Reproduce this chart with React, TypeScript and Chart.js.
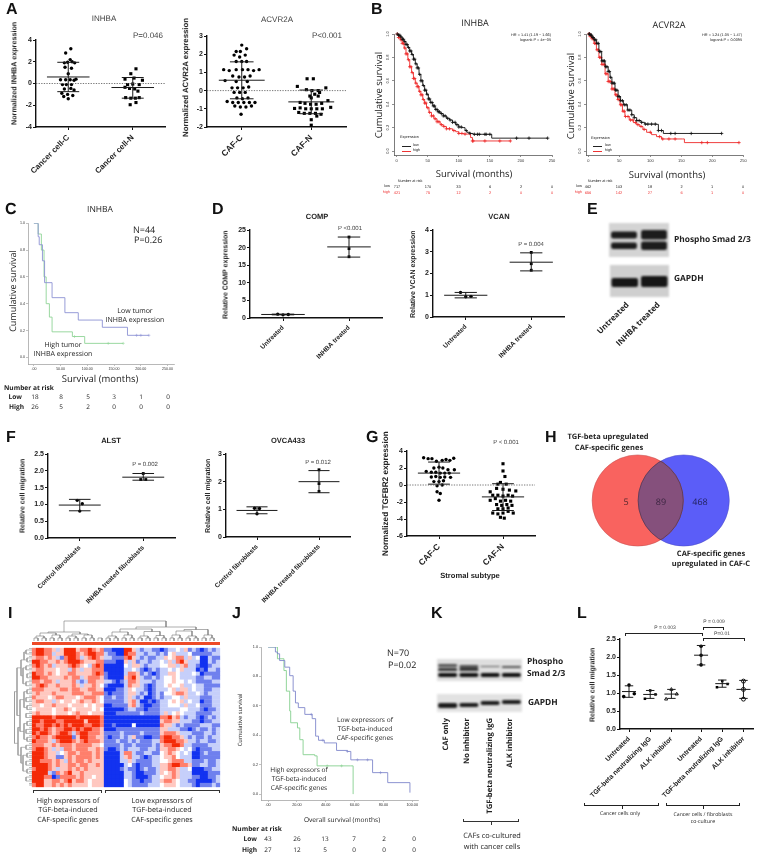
import React, { useEffect, useRef } from "react";
import { Chart, registerables } from "chart.js";
Chart.register(...registerables);

const W = 760, H = 858, AXW = 20;
const ARIAL = "'Liberation Sans', Arial, sans-serif";
const OPEN = "'Open Sans', sans-serif";

// ---------- Panel A ----------
const inhbaC = [[4,3.2],[-4,2.8],[3,2.2],[-6,1.9],[-1,1.95],[6,2.0],[10,1.9],[-5,1.5],[5,1.4],[0,0.9],[-12,0.35],[-4,0.35],[3,0.35],[9,0.3],[12,0.4],[-9,-0.1],[-3,-0.1],[5,-0.1],[-6,-0.5],[4,-0.45],[9,-0.6],[-10,-0.9],[-1,-1.0],[7,-1.1],[0,-1.4],[-7,-1.2]];
const inhbaN = [[5,1.35],[-3,0.9],[-12,0.4],[2,0.5],[10,-0.1],[15,0.3],[0,-0.05],[-8,-0.1],[-12,-0.35],[-5,-0.45],[3,-0.5],[8,-0.7],[-11,-1.3],[-3,-1.35],[4,-1.35],[10,-1.3],[-4,-1.95],[5,-1.75]];
const acvrC = [[0,2.5],[7,2.3],[-8,2.15],[-2,2.15],[-11,1.95],[-3,1.85],[5,1.95],[-8,1.6],[0,1.6],[7,1.6],[-26,1.15],[-18,1.1],[-8,1.15],[1,1.15],[9,1.15],[17,1.1],[25,1.15],[-13,0.8],[-4,0.75],[4,0.75],[12,0.8],[-24,0.55],[-8,0.5],[8,0.5],[-14,0.15],[-6,0.15],[2,0.15],[10,0.2],[-11,-0.1],[-3,-0.1],[5,-0.1],[-7,-0.4],[1,-0.45],[9,-0.4],[-21,-0.6],[-13,-0.65],[-5,-0.65],[3,-0.65],[11,-0.65],[19,-0.65],[-10,-0.85],[-2,-0.9],[6,-0.9],[14,-0.85],[-1,-1.3]];
const acvrN = [[-6,0.65],[3,0.65],[-20,0.23],[-7,0.05],[1,0],[10,0],[21,0.15],[12,-0.1],[5,-0.2],[-2,-0.3],[10,-0.3],[0,-0.4],[-16,-0.65],[-9,-0.7],[-1,-0.75],[7,-0.75],[15,-0.7],[24,-0.55],[-24,-0.98],[-16,-0.95],[-8,-1],[0,-1],[8,-1],[16,-1],[28,-0.92],[-18,-1.2],[-10,-1.25],[-2,-1.25],[6,-1.25],[14,-1.3],[8,-1.4],[0,-1.6],[0,-1.9]];
// ---------- Panel D / F ----------
const compU = [[-8,1.1],[0,0.9],[8,1.0]];
const compT = [[0,23],[0,19.7],[0,17.4]];
const vcanU = [[-8,1.13],[0,0.93],[8,0.95]];
const vcanT = [[0,2.97],[0,2.45],[0,2.15]];
const alstC = [[-4,1.12],[4,1.02],[0,0.8]];
const alstT = [[0,1.92],[-4,1.74],[4,1.74]];
const ovcaC = [[-4,1.04],[4,1.03],[0,0.84]];
const ovcaT = [[0,2.43],[0,1.93],[0,1.65]];
// ---------- Panel G ----------
const tgfC = [[-24,3.2],[-17,3.1],[-11,3.1],[-4,2.8],[5,2.9],[11,3.0],[17,2.9],[23,3.15],[-8,2.0],[0,2.1],[6,2.0],[14,1.8],[-20,1.6],[-12,1.5],[-5,1.5],[2,1.4],[9,1.4],[16,1.4],[24,1.8],[-12,0.95],[-5,1],[2,0.9],[9,0.95],[18,0.9],[-8,0.4],[0,0.4],[7,0.5],[-3,-0.1],[5,0],[-3,-0.8],[2,-1],[0,-1.8]];
const tgfN = [[0,2.5],[0,1.65],[3,1],[-8,0.1],[-4,0.3],[5,0.1],[-20,-0.8],[-10,-0.4],[0,-0.5],[10,-0.6],[20,-0.7],[-16,-1.2],[-8,-1.2],[0,-1.3],[8,-1.2],[15,-1.3],[-20,-1.8],[-12,-1.6],[-4,-1.9],[4,-1.8],[12,-1.9],[-10,-2.3],[-2,-2.4],[6,-2.3],[14,-2.4],[-8,-2.8],[0,-2.8],[8,-2.7],[-16,-3.3],[-8,-3.4],[0,-3.3],[8,-3.1],[16,-3.3],[-4,-3.8],[2,-3.9]];
// ---------- Panel L ----------
const lCats = ["Untreated","TGF-beta neutralizing IgG","ALK inhibitor","Untreated","TGF-beta neutralizing IgG","ALK inhibitor"];
const lCenters = [1,2,3,4.4,5.4,6.4];
const lPts = [[[0,1.22],[-25,0.9],[25,0.98]],[[0,1.07],[-25,0.84],[25,0.96]],[[0,1.1],[-25,0.83],[25,0.97]],[[0,2.3],[0,2.05],[0,1.78]],[[-25,1.16],[0,1.33],[25,1.25]],[[0,1.33],[0,1.1],[0,0.83]]];
const lMean = [1.04,0.96,0.97,2.05,1.26,1.1];
const lHi = [1.2,1.07,1.1,2.32,1.36,1.35];
const lLo = [0.88,0.85,0.85,1.78,1.16,0.85];
// ---------- Survival curves ----------
const kmXTicks = [0,50,100,150,200,250];
const kmYTicks = [0,0.2,0.4,0.6,0.8,1];
const b1LowT = [0,3,6,9,12,15,18,21,24,27,30,33,36,39,42,45,48,51,54,58,62,66,70,75,80,85,90,95,100,105,110,113,118,123,153,243];
const b1LowS = [1,.99,.975,.955,.935,.91,.885,.855,.825,.785,.745,.71,.655,.6,.56,.52,.485,.445,.415,.385,.355,.335,.32,.3,.28,.265,.245,.225,.205,.2,.175,.16,.15,.143,.11,.11];
const b1LowC = [1,3,5,7,9,11,13,15,17,19,21,23,25,27,29,31,33,35,37,39,41,43,45,47,49,51,53,55,57,59,61,63,65,67,69,72,75,78,82,86,90,94,97,100,104,112,118,125,130,133,142,144,150,193,213,243];
const b1HighT = [0,3,6,9,12,15,18,21,24,27,30,33,36,39,42,45,48,52,56,60,65,70,75,80,90,95,100,108,113,119,122,183];
const b1HighS = [1,.97,.95,.92,.88,.83,.78,.72,.67,.62,.58,.55,.51,.48,.44,.41,.37,.33,.3,.275,.25,.225,.21,.19,.175,.165,.15,.145,.145,.115,.086,.086];
const b1HighC = [1,3,5,7,9,11,13,15,17,19,21,23,25,27,29,31,33,35,37,39,41,43,45,47,50,53,56,59,62,65,68,72,76,80,85,92,100,105,110,122,123,142,166,183];
const b2LowT = [0,3,6,9,13,17,21.5,27,32,35,38,43,48,52,56.5,63,70,74,78,85,91,100,110,113,121,215];
const b2LowS = [1,.99,.97,.95,.92,.85,.77,.72,.68,.63,.58,.52,.465,.43,.395,.35,.31,.285,.26,.245,.23,.23,.228,.175,.15,.15];
const b2LowC = [1,2,4,5,7,8,10,12,14,16,18,20,22,24,26,28,30,32,34,36,38,40,42,44,46,48,50,52,55,58,61,64,67,70,74,78,82,86,92,96,102,108,113,118,133,140,166,215];
const b2HighT = [0,3,6,9,13,17,21.5,27,32,38,43,47,51,55,59,66,72.6,78,83,88,94,102,110,118,152,155,243.5];
const b2HighS = [1,.98,.96,.92,.865,.8,.74,.66,.594,.53,.48,.44,.395,.34,.295,.265,.243,.225,.21,.185,.16,.14,.123,.103,.103,.072,.072];
const b2HighC = [1,2,3,5,6,8,10,12,14,16,18,20,22,24,26,28,30,32,34,36,38,40,42,44,46,48,50,52,54,56,58,60,64,68,72,76,80,85,90,100,115,120,130,140,183,192,243];
const cLowT = [0,6,8,10,16,20,34,58,83,128,175,215];
const cLowS = [1,1,.9,.84,.72,.557,.445,.333,.278,.224,.164,.164];
const cLowC = [192,200,215];
const cHighT = [0,6,8,14,19,23,29,34,72,95,167];
const cHighS = [1,1,.92,.8,.6,.4,.3,.19,.155,.104,.104];
const cHighC = [76,139,167];
const jLowT = [0,5.1,6.5,8,11.6,15,17.4,19,21,25.5,30.6,33,35,39,47.5,55,57.4,72.5,83,98.4];
const jLowS = [1,.966,.954,.908,.863,.805,.7,.62,.588,.542,.513,.394,.366,.348,.297,.29,.233,.146,.078,.01];
const jLowC = [30,38,55,62,69,78];
const jHighT = [0,5.1,6.5,11,12.7,15,15.7,20.4,22,24.3,32.4,34,57,59];
const jHighS = [1,1,.92,.84,.7,.565,.485,.45,.37,.268,.26,.192,.192,0];
const jHighC = [41,51];
// ---------- Risk tables ----------
const b1RiskLow = ["717","170","33","6","2","0"];
const b1RiskHigh = ["421","75","12","2","0","0"];
const b2RiskLow = ["462","103","18","2","1","0"];
const b2RiskHigh = ["656","142","27","6","1","0"];
const cRiskLow = ["18","8","5","3","1","0"];
const cRiskHigh = ["26","5","2","0","0","0"];
const jRiskLow = ["43","26","13","7","2","0"];
const jRiskHigh = ["27","12","5","0","0","0"];
// ---------- Venn ----------
const vennCounts = ["5","89","468"];
const vennCenters = [45.7,91.7];
// ---------- Heatmap: R strong red ... w white ... B strong blue ----------
const heatRows = [
"rRRrrplpRRRprrRrprbbBBBRRplbllbbBbllwlpblbBblbl",
"rRRrrlppRRRrprRRrrlbbBBRrrllbllblbwplllwbbbbbll",
"prrprplbrRRrlprRrpllbbbrRplblbbllpwprrlplwBBlbb",
"RRrrpprprRRRrppprrbbbBBplpbllbllwlplrRplllBBlbl",
"rRrprlppprRrpwlrRrBBBBBwlpplblllwwpplprllbBBbll",
"prrpppwpplrplpprrrBBBBBllwlbBblbllwlwplllBbBllb",
"RrrprpwpprrpppprRrbBBBBlrrpblbBbllppwlllwlBbbbb",
"RRrrpppprprrlprrrpbBBBBprRplbblblwwpwllllbbllbb",
"rrprrplppprlblrrppllbBblrrplllbllwwpwwlwlbbbbll",
"prRrpprppprplpprpwbBBBBlrpplbBbllwpwwpllwllbbbb",
"rrrpppprrprrpprrppBBBbblpwllbBblllwplpplwllbbll",
"prppprpppprrrpprrrbBbbblpplblBblbwwprrpllwlblll",
"rpppwprrpppwprrrpwbblbblplblBBblbllwwlplllbbbll",
"prrpplpwppwprpprpwbbbbblprlBBbBbllwpwplwllBbbll",
"ppwpprpppwpppwpwppBBbbbbprlbBBbbllwwwlpllwbbbll",
"wppppwpprpwppppwpwBBBBBbllbbBbbblllllwwlllbBbbl",
"prpppwpppwprppwpppBBBbbbbbblbbbblplwpwlllbbbbll",
"RRRRRrRRRRRrRRRRRrBBBBBBBBBBBBBBrrRprlbllbBblbl",
"RRrRRRrrRRRRRpRRRrBBBBBBBBBBBBBBprrpplllbbBbbll",
"RrrRRrRrRrRRRrrRRrBBbBBBBwBBBBBBrpplblbbbblllbb",
"RRrRrprrRRrRrRRrrpBBBbbbbbbbbbbbpplllbbBblbblbl",
"RrRRrprRRrlrRRrrrpbbbblbbbblbbbbprrrplllbbbllbl",
"rRrrprRRRRbpRRrrppbBbblblpbbBBbbrRRrrplblbblbll",
"RrrrplrRRRrprRrrrpbbblbblblbbbllrRRRrrpllbllbbl",
"rrrpprprrrprrrrppwbbbblbblbbbblbprrRRrllbbbblll",
"rRRrplplrrprrrpprpbBBblblllbbllbpprrpwlwbBbbbll",
"RRRrpplwprrprrrprpBBBBlrrlbbllbbwprpwlwlBBblbbb",
"RRRrppbbprprrrrprpBBBBlprllbBbllwpprwlllBBbbbbb",
"RRrrrprplrprrprpppBBBBllplbbbbllwwprrrllbbblbbl",
"RRRRrprpprrprrpprpBBBBBlwbBbbbllpprRRrrpbbllbbl",
"rRRRrplpprprprppppBBBBblbbBblbblpprrpllwBBBbbll",
"RRRRlbrprRpprpppppBBBBBllbBBbbblpwprplllBBBBbbb",
"RRRrrBbrrrrprppwppBBBBBllbBBBbllwpprplllbbBBbbl",
"RRRpprrprRprrpwpppBBBBBwlbbBbbllprrpwllbbBBBBbl",
"rRRpprprprppppwpppBBBBBwlbbbblllwpppwlllbBbbblb",
];
const heatColors = { R:"#f42a08", r:"#ff7f6c", p:"#ffc8c0", w:"#ffffff", l:"#c6cffa", b:"#6f80ee", B:"#1232f0" };
// [a, b, heightA, heightB, top]
const topMerges = [
[.5,1.5,0,0,3],[2.5,3.5,0,0,3],[4.5,5.5,0,0,3],[6.5,7.5,0,0,3],[8.5,9.5,0,0,3],[10.5,11.5,0,0,3],[12.5,13.5,0,0,3],[14.5,15.5,0,0,3],[16.5,17.5,0,0,3],[18.5,19.5,0,0,3],[20.5,21.5,0,0,3],[22.5,23.5,0,0,3],[24.5,25.5,0,0,3],[26.5,27.5,0,0,3],[28.5,29.5,0,0,3],[30.5,31.5,0,0,3],[32.5,33.5,0,0,3],[34.5,35.5,0,0,3],[36.5,37.5,0,0,3],[38.5,39.5,0,0,3],[40.5,41.5,0,0,3],[42.5,43.5,0,0,3],[44.5,45.5,0,0,3],
[1,3,3,3,5],[5,7,3,3,6],[9,11,3,3,5],[13,15,3,3,6],[19,21,3,3,5],[23,25,3,3,6],[27,29,3,3,5],[31,33,3,3,5.5],[35,37,3,3,6],[39,41,3,3,5],[43,45,3,3,6],
[2,6,5,6,8],[10,14,5,6,7],[4,12,8,7,9],[20,24,5,6,9],[28,32,5,5.5,9.5],[36,40,6,5,10],[22,30,9,9.5,12],[38,44,10,6,11.5],[26,41,12,11.5,14],[8,33.5,9,14,20],
];
const leftMerges = [
[.5,1.5,3,3,6],[2.5,3.5,3,3,5],[4.5,5.5,3,3,6],[6.5,7.5,3,3,5],[8.5,9.5,3,3,6],[10.5,11.5,3,3,5],[12.5,13.5,3,3,6],[14.5,15.5,3,3,5],[16.5,17.5,3,3,6],[18.5,19.5,3,3,5],[20.5,21.5,3,3,6],[22.5,23.5,3,3,5],[24.5,25.5,3,3,6],[26.5,27.5,3,3,5],[28.5,29.5,3,3,6],[30.5,31.5,3,3,5],[32.5,33.5,3,3,6],
[1,3,6,5,8],[5,9,6,6,9],[11,15,5,5,8],[19,23,5,5,8],[27,31,5,5,9],[3,7,8,9,11],[13,21,8,8,12],[25,29,6,9,11],[5,17,11,12,15],[20,27,12,11,14],[11,24,15,14,17.5],
];
const hAxisRows = [0,1,2,3,4,5,6,7,8,9,10,11,12,13,14,15,16,17,18,19,20,21,22,23,24,25,26,27,28,29,30,31,32,33,34];
// ---------- Blots ----------
const eLanes = ["Untreated","INHBA treated"];
const ePhosUpper = [[8.5,15.5],[7,16.5]];
const ePhosLower = [[19.5,26],[18.5,27]];
const eGapdh = [[13,22],[11,22]];
const kLanes = ["CAF only","No inhibitor","TGF-beta neutralizing IgG","ALK inhibitor"];
const kPhosTop = [[5,8],[6,9],[7,8],[7,9]];
const kPhosMid = [[9,12],[9,12],[0,0],[0,0]];
const kPhosLow = [[14,18],[14,18],[14,18],[14,18]];
const kGapdh = [[9,14],[9,13],[7,11],[6,10]];

// ---------- helpers ----------
function barLines(c, mean, hi, lo, wm, ws) {
  return [
    {x:c-wm,y:mean},{x:c+wm,y:mean},{x:c,y:NaN},
    {x:c-ws,y:hi},{x:c+ws,y:hi},{x:c,y:NaN},
    {x:c-ws,y:lo},{x:c+ws,y:lo},{x:c,y:NaN},
    {x:c,y:lo},{x:c,y:hi},
  ];
}
function axisX(o) {
  return {
    type:"linear", min:o.min, max:o.max,
    afterBuildTicks:(s)=>{ s.ticks=o.ticks.map((v)=>({value:v})); },
    afterFit:(s)=>{ s.height=Math.min(110,H-s.chart.options.layout.axisBottom); s.paddingLeft=s.paddingRight=s.paddingTop=s.paddingBottom=0; },
    grid:{display:true,drawOnChartArea:false,drawTicks:true,tickLength:o.tl ?? 3,color:o.color ?? "#111",lineWidth:o.tlw ?? 1},
    border:{display:true,color:o.color ?? "#111",width:o.bw ?? 1.4},
    ticks:{autoSkip:false,minRotation:o.rot ?? 0,maxRotation:o.rot ?? 0,padding:o.pad ?? 1,color:o.tc ?? "#222",font:{family:ARIAL,size:o.size ?? 7,weight:o.bold===false?"normal":"bold"},callback:(v,i)=>o.labels[i]},
  };
}
function axisY(o) {
  return {
    type:"linear", min:o.min, max:o.max,
    afterBuildTicks:(s)=>{ s.ticks=o.ticks.map((v)=>({value:v})); },
    afterFit:(s)=>{ s.width=AXW; s.paddingLeft=s.paddingRight=s.paddingTop=s.paddingBottom=0; },
    grid:{display:true,drawOnChartArea:false,drawTicks:true,tickLength:o.tl ?? 3,color:o.color ?? "#111",lineWidth:o.tlw ?? 1},
    border:{display:true,color:o.color ?? "#111",width:o.bw ?? 1.4},
    ticks:{autoSkip:false,minRotation:o.rot ?? 0,maxRotation:o.rot ?? 0,crossAlign:o.rot?"center":"near",padding:o.pad ?? 1,color:o.tc ?? "#222",font:{family:ARIAL,size:o.size ?? 7,weight:o.bold===false?"normal":"bold"},callback:(v,i)=>o.labels[i]},
  };
}
function base(rect, datasets, scales) {
  const [x0,x1,yT,yB] = rect;
  const axh = Math.min(110,H-yB);
  return {
    type:"scatter",
    data:{datasets},
    options:{
      animation:false,responsive:false,events:[],
      layout:{autoPadding:false,axisBottom:yB,padding:{left:x0-AXW,right:W-x1,top:yT,bottom:H-yB-axh}},
      plugins:{legend:{display:false},tooltip:{enabled:false}},
      scales,
    },
  };
}
function dotCfg(p) {
  const ds = [];
  if (p.zero) ds.push({showLine:true,pointRadius:0,borderColor:"#555",borderWidth:.8,borderDash:[1.3,1.3],data:[{x:p.xMin ?? 0,y:0},{x:p.xMax ?? p.cats.length,y:0}]});
  p.groups.forEach((g)=>{
    ds.push({showLine:true,pointRadius:0,borderColor:"#1a1a1a",borderWidth:p.lw ?? 1,data:barLines(g.c,g.mean,g.hi,g.lo,p.wm ?? .33,p.ws ?? .17)});
    ds.push({showLine:false,clip:false,pointStyle:g.style ?? "circle",pointRadius:g.r ?? 1.7,pointBackgroundColor:g.open?"#fff":"#000",pointBorderColor:"#000",pointBorderWidth:g.open?.9:0,
      data:g.pts.map(([d,v])=>({x:g.c+d/100,y:v}))});
  });
  return base(p.rect, ds, {
    x:axisX({min:p.xMin ?? 0,max:p.xMax ?? p.cats.length,ticks:p.centers ?? p.cats.map((_,i)=>i+.5),labels:p.cats,rot:p.rot ?? 45,size:p.catSize ?? 6.6,pad:p.catPad ?? 2}),
    y:axisY({min:p.yMin,max:p.yMax,ticks:p.yTicks,labels:p.yLabels,size:p.ySize ?? 7}),
  });
}
function stepAt(T, S, t) {
  let v = S[0];
  for (let i=0;i<T.length;i++) if (T[i]<=t) v=S[i];
  return v;
}
function kmCfg(p) {
  const ds = [];
  p.curves.forEach((c)=>{
    ds.push({showLine:true,stepped:true,pointRadius:0,borderColor:c.color,borderWidth:c.w ?? .9,data:c.t.map((t,i)=>({x:t,y:c.s[i]}))});
    ds.push({showLine:false,clip:false,pointStyle:"cross",pointRadius:c.cr ?? 1.7,pointBorderColor:c.color,pointBorderWidth:c.cw ?? .8,data:c.c.map((t)=>({x:t,y:stepAt(c.t,c.s,t)}))});
  });
  return base(p.rect, ds, {
    x:axisX({min:p.xMin,max:p.xMax,ticks:p.xTicks,labels:p.xLabels,size:p.ts,bold:false,color:p.ac,bw:.7,tlw:.6,tl:2,pad:1,tc:"#333"}),
    y:axisY({min:p.yMin,max:p.yMax,ticks:kmYTicks,labels:p.yLabels,size:p.ts,bold:false,color:p.ac,bw:.7,tlw:.6,tl:2,pad:1,tc:"#333",rot:p.yRot ?? 0}),
  });
}
function hiddenScale(min,max,reverse=false){ return {type:"linear",min,max,reverse,display:false}; }
function bareCfg(rect, datasets, xs, ys, plugins = []) {
  const [x0,x1,yT,yB] = rect;
  return {
    type:"scatter",data:{datasets},plugins,
    options:{animation:false,responsive:false,events:[],layout:{autoPadding:false,padding:{left:x0,right:W-x1,top:yT,bottom:H-yB}},
      plugins:{legend:{display:false},tooltip:{enabled:false}},scales:{x:xs,y:ys}},
  };
}
function heatCfg() {
  const pts=[], cols=[];
  heatRows.forEach((row,j)=>{ row.split("").forEach((ch,i)=>{ pts.push({x:i+.5,y:j+.5}); cols.push(heatColors[ch]); }); });
  return bareCfg([32,220,648,787],[{showLine:false,clip:false,pointStyle:"rect",pointRadius:3.05,pointBorderWidth:0,pointBackgroundColor:cols,data:pts}],hiddenScale(0,47),hiddenScale(0,35,true));
}
function treeTop() {
  const pts=[];
  topMerges.forEach(([a,b,ha,hb,t])=>{ pts.push({x:a,y:ha},{x:a,y:t},{x:b,y:t},{x:b,y:hb},{x:b,y:NaN}); });
  return bareCfg([32,220,620,641],[{showLine:true,pointRadius:0,borderColor:"#777",borderWidth:.6,data:pts}],hiddenScale(0,47),hiddenScale(0,21));
}
function treeLeft() {
  const pts=[];
  hAxisRows.forEach((r)=>{ pts.push({x:0,y:r+.5},{x:3,y:r+.5},{x:3,y:NaN}); pts.push({x:0,y:r+.1},{x:3,y:r+.1},{x:3,y:NaN}); });
  leftMerges.forEach(([a,b,ha,hb,t])=>{ pts.push({x:ha,y:a},{x:t,y:a},{x:t,y:b},{x:hb,y:b},{x:hb,y:NaN}); });
  return bareCfg([14,32,648,787],[{showLine:true,pointRadius:0,borderColor:"#999",borderWidth:.7,data:pts}],hiddenScale(0,18,true),hiddenScale(0,35,true));
}
const vennPlugin = {
  id:"lens",
  afterDatasetsDraw(chart) {
    const {ctx,scales:{x,y}} = chart;
    const r = 45.6, cy = y.getPixelForValue(50);
    const a = x.getPixelForValue(vennCenters[0]), b = x.getPixelForValue(vennCenters[1]);
    ctx.save();
    ctx.beginPath(); ctx.arc(a,cy,r,0,Math.PI*2); ctx.clip();
    ctx.beginPath(); ctx.arc(b,cy,r,0,Math.PI*2); ctx.fillStyle="#85507c"; ctx.fill();
    ctx.strokeStyle="#4a3550"; ctx.lineWidth=.7; ctx.stroke();
    ctx.restore();
    ctx.save();
    ctx.beginPath(); ctx.arc(b,cy,r,0,Math.PI*2); ctx.clip();
    ctx.beginPath(); ctx.arc(a,cy,r,0,Math.PI*2); ctx.strokeStyle="#4a3550"; ctx.lineWidth=.7; ctx.stroke();
    ctx.restore();
  },
};
function vennCfg() {
  const cfg = bareCfg([592,730,455,546],[
    {type:"bubble",clip:false,backgroundColor:"#f9635f",borderColor:"#c05050",borderWidth:.5,data:[{x:vennCenters[0],y:50,r:45.6}]},
    {type:"bubble",clip:false,backgroundColor:"#5b5df8",borderColor:"#4a4ac0",borderWidth:.5,data:[{x:vennCenters[1],y:50,r:45.6}]},
  ],hiddenScale(0,138),hiddenScale(0,100),[vennPlugin]);
  cfg.type="bubble";
  return cfg;
}
function blotCfg(lanes, bands, maxY, pct) {
  return {
    type:"bar",
    data:{labels:lanes,datasets:bands.map((b)=>({data:b.d,backgroundColor:b.c,grouped:false,barPercentage:pct,categoryPercentage:1,borderSkipped:false,borderRadius:2}))},
    options:{animation:false,responsive:false,events:[],layout:{padding:0},plugins:{legend:{display:false},tooltip:{enabled:false}},
      scales:{x:{display:false,stacked:false},y:{display:false,min:0,max:maxY,reverse:true}}},
  };
}

// ---------- chart configs ----------
const cfgs = [
  dotCfg({rect:[36,165,40,127],yMin:-4,yMax:4,yTicks:[-4,-2,0,2,4],yLabels:["-4","-2","0","2","4"],zero:true,cats:["Cancer cell-C","Cancer cell-N"],catSize:8,catPad:3,
    groups:[{c:.5,pts:inhbaC,mean:.6,hi:1.95,lo:-.75},{c:1.5,pts:inhbaN,mean:-.37,hi:.55,lo:-1.35,style:"rect",r:2.2}]}),
  dotCfg({rect:[207,346,36,127],yMin:-2,yMax:3,yTicks:[-2,-1,0,1,2,3],yLabels:["-2","-1","0","1","2","3"],zero:true,cats:["CAF-C","CAF-N"],catSize:8.5,catPad:3,
    groups:[{c:.5,pts:acvrC,mean:.57,hi:1.58,lo:-.45},{c:1.5,pts:acvrN,mean:-.62,hi:.03,lo:-1.27,style:"rect",r:2.2}]}),
  kmCfg({rect:[394,552,34,155],xMin:-4.3,xMax:250,yMin:-.034,yMax:1,xTicks:kmXTicks,xLabels:kmXTicks.map(String),yLabels:["0.0","0.2","0.4","0.6","0.8","1.0"],ts:4,ac:"#444",yRot:90,
    curves:[{t:b1LowT,s:b1LowS,c:b1LowC,color:"#111"},{t:b1HighT,s:b1HighS,c:b1HighC,color:"#ee2a2a"}]}),
  kmCfg({rect:[586,743.3,34,155],xMin:-3.8,xMax:250,yMin:-.034,yMax:1,xTicks:kmXTicks,xLabels:kmXTicks.map(String),yLabels:["0.0","0.2","0.4","0.6","0.8","1.0"],ts:4,ac:"#444",yRot:90,
    curves:[{t:b2LowT,s:b2LowS,c:b2LowC,color:"#111"},{t:b2HighT,s:b2HighS,c:b2HighC,color:"#ee2a2a"}]}),
  kmCfg({rect:[28,174,223.3,364],xMin:-11,xMax:262,yMin:-.05,yMax:1,xTicks:kmXTicks,xLabels:[".00","50.00","100.00","150.00","200.00","250.00"],yLabels:["0.0","0.2","0.4","0.6","0.8","1.0"],ts:3.6,ac:"#999",
    curves:[{t:cLowT,s:cLowS,c:cLowC,color:"#8c92d4",w:.9,cr:1.5,cw:.5},{t:cHighT,s:cHighS,c:cHighC,color:"#8fd496",w:.9,cr:1.5,cw:.5}]}),
  dotCfg({rect:[250,382,230,318],yMin:0,yMax:25,yTicks:[0,5,10,15,20,25],yLabels:["0","5","10","15","20","25"],cats:["Untreated","INHBA treated"],catSize:6.5,catPad:3,
    groups:[{c:.5,pts:compU,mean:1,hi:1.1,lo:.9},{c:1.5,pts:compT,mean:20.2,hi:23,lo:17.3,style:"rect",r:2}]}),
  dotCfg({rect:[433,564,230,317],yMin:0,yMax:4,yTicks:[0,1,2,3,4],yLabels:["0","1","2","3","4"],cats:["Untreated","INHBA treated"],catSize:6.5,catPad:3,
    groups:[{c:.5,pts:vcanU,mean:1,hi:1.13,lo:.88},{c:1.5,pts:vcanT,mean:2.52,hi:2.95,lo:2.12,style:"rect",r:2}]}),
  dotCfg({rect:[48,175,454,538],yMin:0,yMax:2.5,yTicks:[0,.5,1,1.5,2,2.5],yLabels:["0.0","0.5","1.0","1.5","2.0","2.5"],cats:["Control fibroblasts","INHBA treated fibroblasts"],catSize:6.5,catPad:3,
    groups:[{c:.5,pts:alstC,mean:.98,hi:1.15,lo:.81},{c:1.5,pts:alstT,mean:1.81,hi:1.92,lo:1.72,style:"rect",r:2}]}),
  dotCfg({rect:[226,350,454,537],yMin:0,yMax:3,yTicks:[0,1,2,3],yLabels:["0","1","2","3"],cats:["Control fibroblasts","INHBA treated fibroblasts"],catSize:6.5,catPad:3,
    groups:[{c:.5,pts:ovcaC,mean:.96,hi:1.09,lo:.84},{c:1.5,pts:ovcaT,mean:2,hi:2.4,lo:1.6,style:"rect",r:2}]}),
  dotCfg({rect:[407,535,451,536],yMin:-6,yMax:4,yTicks:[-6,-4,-2,0,2,4],yLabels:["-6","-4","-2","0","2","4"],zero:true,cats:["CAF-C","CAF-N"],catSize:8.5,catPad:3,
    groups:[{c:.5,pts:tgfC,mean:1.4,hi:2.7,lo:.1},{c:1.5,pts:tgfN,mean:-1.4,hi:.15,lo:-3,style:"rect",r:2.2}]}),
  vennCfg(),
  heatCfg(),
  treeTop(),
  treeLeft(),
  kmCfg({rect:[261,418,647,800],xMin:-4.9,xMax:104,yMin:-.04,yMax:1,xTicks:[0,20,40,60,80,100],xLabels:[".00","20.00","40.00","60.00","80.00","100.00"],yLabels:["0.0","0.2","0.4","0.6","0.8","1.0"],ts:3.8,ac:"#999",
    curves:[{t:jLowT,s:jLowS,c:jLowC,color:"#8088cc",w:.9,cr:1.5,cw:.5},{t:jHighT,s:jHighS,c:jHighC,color:"#86d08e",w:.9,cr:1.5,cw:.5}]}),
  dotCfg({rect:[620,753,639,729],xMin:.575,xMax:6.85,centers:lCenters,cats:lCats,yMin:0,yMax:2.5,yTicks:[0,.5,1,1.5,2,2.5],yLabels:["0.0","0.5","1.0","1.5","2.0","2.5"],catSize:6.8,catPad:3,rot:45,ws:.2,wm:.33,
    groups:lCenters.map((c,i)=>({c,pts:lPts[i],mean:lMean[i],hi:lHi[i],lo:lLo[i],style:["circle","rect","triangle","circle","rect","circle"][i],open:i===2||i===5,r:i===5?2:1.8}))}),
];

const blots = [
  {r:[609,669,223,257],bg:"#d4d4d4",cfg:blotCfg(eLanes,[{d:ePhosUpper,c:"#1c1c1c"},{d:ePhosLower,c:"#1c1c1c"}],34,.86)},
  {r:[610,669,265,297],bg:"#cfcfcf",cfg:blotCfg(eLanes,[{d:eGapdh,c:"#161616"}],32,.9)},
  {r:[437,522,659,681],bg:"#dedede",cfg:blotCfg(kLanes,[{d:kPhosTop,c:"#555"},{d:kPhosMid,c:"#333"},{d:kPhosLow,c:"#111"}],22,.9)},
  {r:[437,522,694,712],bg:"#e2e2e2",cfg:blotCfg(kLanes,[{d:kGapdh,c:"#1c1c1c"}],18,.9)},
];

function Cv({ cfg, box, extra }) {
  const ref = useRef(null);
  useEffect(() => {
    const c = new Chart(ref.current, cfg);
    return () => c.destroy();
  }, []);
  const w = box ? box[1]-box[0] : W, h = box ? box[3]-box[2] : H;
  return <canvas ref={ref} width={w} height={h} style={{position:"absolute",left:box?box[0]:0,top:box?box[2]:0,width:w,height:h,...extra}} />;
}
function T({ x, y, s, size = 7, bold = false, color = "#222", a = "c", rot = 0, font = ARIAL }) {
  const ax = a==="l"?"0":a==="r"?"-100%":"-50%";
  return <div style={{position:"absolute",left:x,top:y,transform:`rotate(${rot}deg) translate(${ax},-50%)`,transformOrigin:"0 0",whiteSpace:"nowrap",fontFamily:font,fontSize:size,fontWeight:bold?700:400,color,lineHeight:1,textRendering:"geometricPrecision"}}>{s}</div>;
}
function Br({ x1, x2, y, h = 3, up = false, tick = 0, color = "#222" }) {
  const b = `1px solid ${color}`;
  return <>
    <div style={{position:"absolute",left:x1,top:up?y:y-h,width:x2-x1,height:h,borderLeft:b,borderRight:b,...(up?{borderTop:b}:{borderBottom:b}),boxSizing:"border-box"}} />
    {tick>0 && <div style={{position:"absolute",left:(x1+x2)/2,top:up?y-tick:y,width:1,height:tick,background:color}} />}
  </>;
}
function Risk({ xs, low, high, yLow, yHigh, size, cLow = "#222", cHigh = "#222", font = ARIAL }) {
  return <>
    {low.map((v,i)=><T key={"l"+i} x={xs[i]} y={yLow} s={v} size={size} color={cLow} font={font} />)}
    {high.map((v,i)=><T key={"h"+i} x={xs[i]} y={yHigh} s={v} size={size} color={cHigh} font={font} />)}
  </>;
}
const Letter = ({x,y,s}) => <T x={x} y={y} s={s} size={16} bold color="#111" a="l" />;

export default function App() {
  useEffect(() => { document.body.style.margin = "0"; document.body.style.background = "#fff"; }, []);
  const b1x = [397,428,458.5,490,521,552];
  const b2x = [588,619,650,681.5,712,743];
  return (
    <div style={{position:"absolute",left:0,top:0,width:W,height:H,overflow:"hidden",background:"#fff",filter:"blur(0.3px)"}}>
      {cfgs.map((c,i)=><Cv key={i} cfg={c} extra={i===11?{filter:"blur(0.6px)"}:undefined} />)}
      {blots.map((b,i)=><Cv key={"b"+i} cfg={b.cfg} box={b.r} extra={{background:b.bg,filter:"blur(1.2px)"}} />)}

      {/* letters */}
      <Letter x={6} y={10} s="A" /><Letter x={371} y={10} s="B" /><Letter x={5} y={210} s="C" /><Letter x={212} y={210} s="D" /><Letter x={587} y={210} s="E" />
      <Letter x={6} y={438} s="F" /><Letter x={366} y={438} s="G" /><Letter x={545} y={438} s="H" /><Letter x={8} y={614} s="I" /><Letter x={232} y={614} s="J" /><Letter x={431} y={614} s="K" /><Letter x={577} y={614} s="L" />

      {/* A */}
      <T x={104} y={19} s="INHBA" size={8} color="#444" />
      <T x={148} y={36} s="P=0.046" size={8} color="#444" />
      <T x={14} y={125} s="Normalized INHBA expression" size={7.2} bold rot={-90} a="l" />
      <T x={277} y={20} s="ACVR2A" size={8} color="#444" />
      <T x={327} y={36} s="P<0.001" size={8} color="#444" />
      <T x={186} y={137} s="Normalized ACVR2A expression" size={7.8} bold rot={-90} a="l" />

      {/* B */}
      <T x={475} y={22} s="INHBA" size={9} font={OPEN} />
      <T x={669} y={24} s="ACVR2A" size={9} font={OPEN} />
      <T x={379} y={95} s="Cumulative survival" size={9.5} font={OPEN} rot={-90} />
      <T x={571} y={96} s="Cumulative survival" size={9.5} font={OPEN} rot={-90} />
      <T x={474} y={174} s="Survival (months)" size={9.5} font={OPEN} />
      <T x={667} y={175} s="Survival (months)" size={9.5} font={OPEN} />
      <T x={551} y={36} s="HR = 1.41 (1.19 − 1.66)" size={3.8} a="r" />
      <T x={551} y={41} s="logrank P = 4e−05" size={3.8} a="r" />
      <T x={742} y={36} s="HR = 1.24 (1.05 − 1.47)" size={3.8} a="r" />
      <T x={742} y={41} s="logrank P = 0.0095" size={3.8} a="r" />
      <T x={400} y={138} s="Expression" size={3.8} a="l" />
      <T x={413} y={146} s="low" size={3.8} a="l" /><T x={413} y={151} s="high" size={3.8} a="l" />
      <div style={{position:"absolute",left:402,top:146,width:9,height:1,background:"#222"}} /><div style={{position:"absolute",left:402,top:151,width:9,height:1,background:"#e33"}} />
      <T x={591} y={139} s="Expression" size={3.8} a="l" />
      <T x={605} y={146} s="low" size={3.8} a="l" /><T x={605} y={151} s="high" size={3.8} a="l" />
      <div style={{position:"absolute",left:593,top:146,width:9,height:1,background:"#222"}} /><div style={{position:"absolute",left:593,top:151,width:9,height:1,background:"#e33"}} />
      <T x={410} y={182} s="Number at risk" size={3.8} />
      <T x={390} y={187} s="low" size={3.8} a="r" /><T x={390} y={193} s="high" size={3.8} a="r" color="#e33" />
      <Risk xs={b1x} low={b1RiskLow} high={b1RiskHigh} yLow={187} yHigh={193} size={3.9} cHigh="#e33" />
      <T x={600} y={182} s="Number at risk" size={3.8} />
      <T x={582} y={187} s="low" size={3.8} a="r" /><T x={582} y={193} s="high" size={3.8} a="r" color="#e33" />
      <Risk xs={b2x} low={b2RiskLow} high={b2RiskHigh} yLow={187} yHigh={193} size={3.9} cHigh="#e33" />

      {/* C */}
      <T x={100} y={210} s="INHBA" size={8.5} font={OPEN} />
      <T x={133} y={229} s="N=44" size={9} font={OPEN} a="l" />
      <T x={134} y={239} s="P=0.26" size={9} font={OPEN} a="l" />
      <T x={135} y={311} s="Low tumor" size={7} font={OPEN} /><T x={135} y={320} s="INHBA expression" size={7} font={OPEN} />
      <T x={63} y={345} s="High tumor" size={7} font={OPEN} /><T x={63} y={354} s="INHBA expression" size={7} font={OPEN} />
      <T x={12} y={291} s="Cumulative survival" size={9} font={OPEN} rot={-90} />
      <T x={100} y={379} s="Survival (months)" size={9.5} font={OPEN} />
      <T x={4} y={388} s="Number at risk" size={6.6} bold font={OPEN} a="l" />
      <T x={22} y={397} s="Low" size={6.6} bold font={OPEN} a="r" /><T x={24} y={407} s="High" size={6.6} bold font={OPEN} a="r" />
      <Risk xs={[35,61,88,114,141,168]} low={cRiskLow} high={cRiskHigh} yLow={397} yHigh={407} size={6.4} font={OPEN} />

      {/* D */}
      <T x={317} y={217} s="COMP" size={7.5} bold />
      <T x={350} y={229} s="P <0.001" size={6} color="#444" />
      <T x={226} y={319} s="Relative COMP expression" size={7} bold rot={-90} a="l" />
      <T x={499} y={217} s="VCAN" size={7.5} bold />
      <T x={531} y={245} s="P = 0.004" size={6} color="#444" />
      <T x={413} y={318} s="Relative VCAN expression" size={7} bold rot={-90} a="l" />

      {/* E */}
      <T x={674} y={240} s="Phospho Smad 2/3" size={8.4} bold font={OPEN} a="l" />
      <T x={674} y={279} s="GAPDH" size={8.4} bold font={OPEN} a="l" />
      <T x={628} y={304} s="Untreated" size={8} bold font={OPEN} a="r" rot={-45} />
      <T x={659} y={304} s="INHBA treated" size={8} bold font={OPEN} a="r" rot={-45} />

      {/* F */}
      <T x={111} y={441} s="ALST" size={7.5} bold />
      <T x={145} y={465} s="P = 0.002" size={6} color="#444" />
      <T x={23} y={533} s="Relative cell migration" size={7} bold rot={-90} a="l" />
      <T x={288} y={441} s="OVCA433" size={7.5} bold />
      <T x={318} y={463} s="P = 0.012" size={6} color="#444" />
      <T x={208} y={533} s="Relative cell migration" size={7} bold rot={-90} a="l" />

      {/* G */}
      <T x={506} y={443} s="P < 0.001" size={6} color="#444" />
      <T x={386} y={556} s="Normalized TGFBR2 expression" size={8.2} bold rot={-90} a="l" />
      <T x={470} y={576} s="Stromal subtype" size={7.6} bold />

      {/* H */}
      <T x={608} y={438} s="TGF-beta upregulated" size={7.5} bold font={OPEN} />
      <T x={609} y={449} s="CAF-specific genes" size={7.5} bold font={OPEN} />
      <T x={626} y={501} s={vennCounts[0]} size={9} color="#5a2a30" font={OPEN} />
      <T x={661} y={501} s={vennCounts[1]} size={9} color="#3a2540" font={OPEN} />
      <T x={700} y={501} s={vennCounts[2]} size={9} color="#23235f" font={OPEN} />
      <T x={711} y={555} s="CAF-specific genes" size={7.5} bold font={OPEN} />
      <T x={711} y={565} s="upregulated in CAF-C" size={7.5} bold font={OPEN} />

      {/* I */}
      <div style={{position:"absolute",left:32,top:642,width:188,height:2.5,background:"#ee4a28"}} />
      <Br x1={33} x2={102} y={790} h={3} up tick={0} color="#333" />
      <Br x1={105} x2={220} y={790} h={3} up tick={0} color="#333" />
      <T x={68} y={802} s="High expressors of" size={7.2} font={OPEN} /><T x={68} y={811} s="TGF-beta-induced" size={7.2} font={OPEN} /><T x={68} y={821} s="CAF-specific genes" size={7.2} font={OPEN} />
      <T x={162} y={802} s="Low expressors of" size={7.2} font={OPEN} /><T x={162} y={811} s="TGF-beta-induced" size={7.2} font={OPEN} /><T x={162} y={821} s="CAF-specific genes" size={7.2} font={OPEN} />

      {/* J */}
      <T x={387} y={652} s="N=70" size={9} font={OPEN} a="l" />
      <T x={388} y={664} s="P=0.02" size={9} font={OPEN} a="l" />
      <T x={365} y={720} s="Low expressors of" size={6.6} font={OPEN} /><T x={365} y={729} s="TGF-beta-induced" size={6.6} font={OPEN} /><T x={365} y={738} s="CAF-specific genes" size={6.6} font={OPEN} />
      <T x={299} y={770} s="High expressors of" size={6.6} font={OPEN} /><T x={299} y={779} s="TGF-beta-induced" size={6.6} font={OPEN} /><T x={299} y={788} s="CAF-specific genes" size={6.6} font={OPEN} />
      <T x={241} y={720} s="Cumulative survival" size={5.8} font={OPEN} rot={-90} />
      <T x={342} y={820} s="Overall survival (months)" size={6.6} font={OPEN} />
      <T x={232} y={829} s="Number at risk" size={6.6} bold font={OPEN} a="l" />
      <T x={257} y={839} s="Low" size={6.6} bold font={OPEN} a="r" /><T x={257} y={850} s="High" size={6.6} bold font={OPEN} a="r" />
      <Risk xs={[268,297,325,354,384,414]} low={jRiskLow} high={jRiskHigh} yLow={839} yHigh={850} size={6.4} font={OPEN} />

      {/* K */}
      <T x={527} y={662} s="Phospho" size={8.4} bold font={OPEN} a="l" />
      <T x={527} y={674} s="Smad 2/3" size={8.4} bold font={OPEN} a="l" />
      <T x={528} y={703} s="GAPDH" size={8.4} bold font={OPEN} a="l" />
      {kLanes.map((l,i)=><T key={l} x={[447,468,491,511][i]} y={718} s={l} size={7.6} bold font={OPEN} a="r" rot={-90} />)}
      <Br x1={463} x2={519} y={822} h={3} tick={3} color="#333" />
      <T x={492} y={837} s="CAFs co-cultured" size={7.4} font={OPEN} />
      <T x={492} y={848} s="with cancer cells" size={7.4} font={OPEN} />

      {/* L */}
      <T x={665} y={628} s="P = 0.003" size={5} color="#444" />
      <T x={714} y={622} s="P = 0.009" size={5} color="#444" />
      <T x={722} y={634} s="P=0.01" size={5} color="#444" />
      <Br x1={625} x2={703} y={633} h={3} up />
      <Br x1={703} x2={724} y={627} h={3} up />
      <Br x1={703} x2={745} y={638} h={3} up />
      <T x={593} y={722} s="Relative cell migration" size={7} bold rot={-90} a="l" />
      <Br x1={584} x2={659} y={806} h={3} tick={3} />
      <Br x1={666} x2={740} y={806} h={3} tick={3} />
      <T x={620} y={814} s="Cancer cells only" size={5.2} font={OPEN} />
      <T x={703} y={815} s="Cancer cells / fibroblasts" size={5.2} font={OPEN} />
      <T x={703} y={822} s="co-culture" size={5.2} font={OPEN} />
    </div>
  );
}
